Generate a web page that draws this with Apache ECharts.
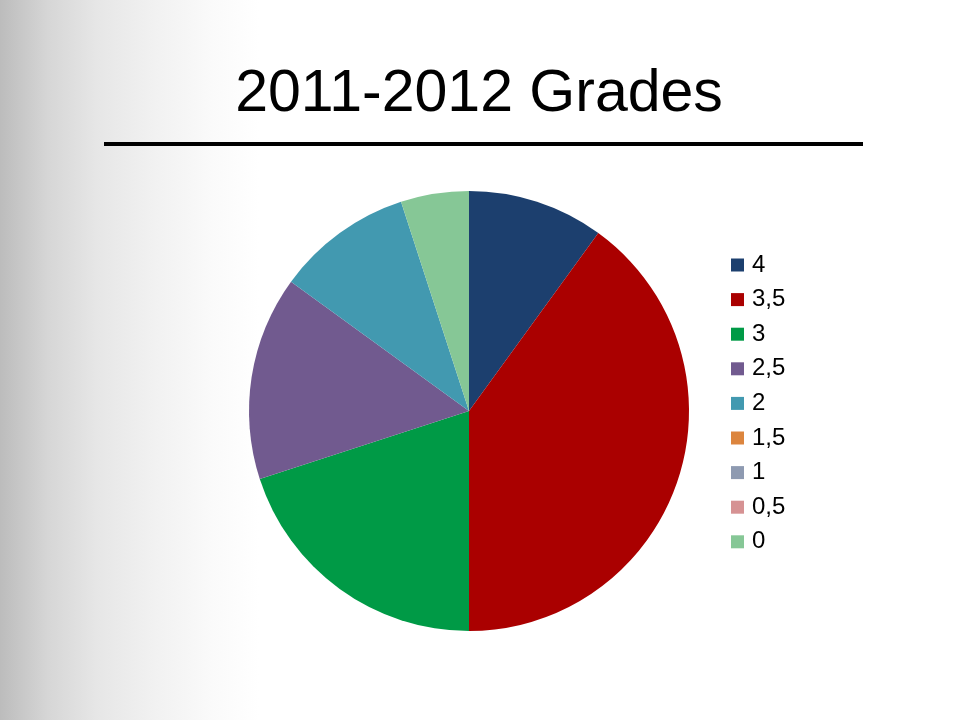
<!DOCTYPE html>
<html>
<head>
<meta charset="utf-8">
<script src="https://cdn.jsdelivr.net/npm/echarts@6/dist/echarts.min.js"></script>
<style>
html,body{margin:0;padding:0;}
#main{width:960px;height:720px;}
</style>
</head>
<body>
<div id="main"></div>
<script>
const categories = ['4', '3,5', '3', '2,5', '2', '1,5', '1', '0,5', '0'];
const values = [2, 8, 4, 3, 2, 0, 0, 0, 1];
const colors = ['#1c3f6e', '#aa0000', '#009a46', '#715a8f', '#4299b0', '#dc853e', '#8e9ab1', '#d69293', '#86c796'];

const chart = echarts.init(document.getElementById('main'));
chart.setOption({
  backgroundColor: new echarts.graphic.LinearGradient(0, 0, 1, 0, [
    {offset: 0, color: '#bcbcbc'},
    {offset: 0.05, color: '#d6d6d6'},
    {offset: 0.1, color: '#e6e6e6'},
    {offset: 0.16, color: '#f1f1f1'},
    {offset: 0.22, color: '#fafafa'},
    {offset: 0.27, color: '#ffffff'},
    {offset: 1, color: '#ffffff'}
  ]),
  animation: false,
  title: {
    text: '2011-2012 Grades',
    left: 474,
    textAlign: 'center',
    top: 60,
    textStyle: {fontFamily: 'Liberation Sans, Arial, sans-serif', fontSize: 59, fontWeight: 'normal', color: '#000'}
  },
  graphic: [{
    type: 'rect',
    shape: {x: 104, y: 142, width: 759, height: 4},
    style: {fill: '#000'}
  }],
  legend: {
    orient: 'vertical',
    left: 726,
    top: 248,
    itemWidth: 13,
    itemHeight: 13,
    itemGap: 10.6,
    icon: 'rect',
    data: categories,
    textStyle: {fontFamily: 'Liberation Sans, Arial, sans-serif', fontSize: 24, lineHeight: 24, color: '#000', padding: [0, 0, 0, 3]},
    selectedMode: false
  },
  color: colors,
  series: [{
    type: 'pie',
    center: [469, 411],
    radius: 220,
    startAngle: 90,
    clockwise: true,
    label: {show: false},
    labelLine: {show: false},
    itemStyle: {borderWidth: 0},
    emphasis: {disabled: true},
    data: categories.map((c, i) => ({name: c, value: values[i]}))
  }]
});
</script>
</body>
</html>
